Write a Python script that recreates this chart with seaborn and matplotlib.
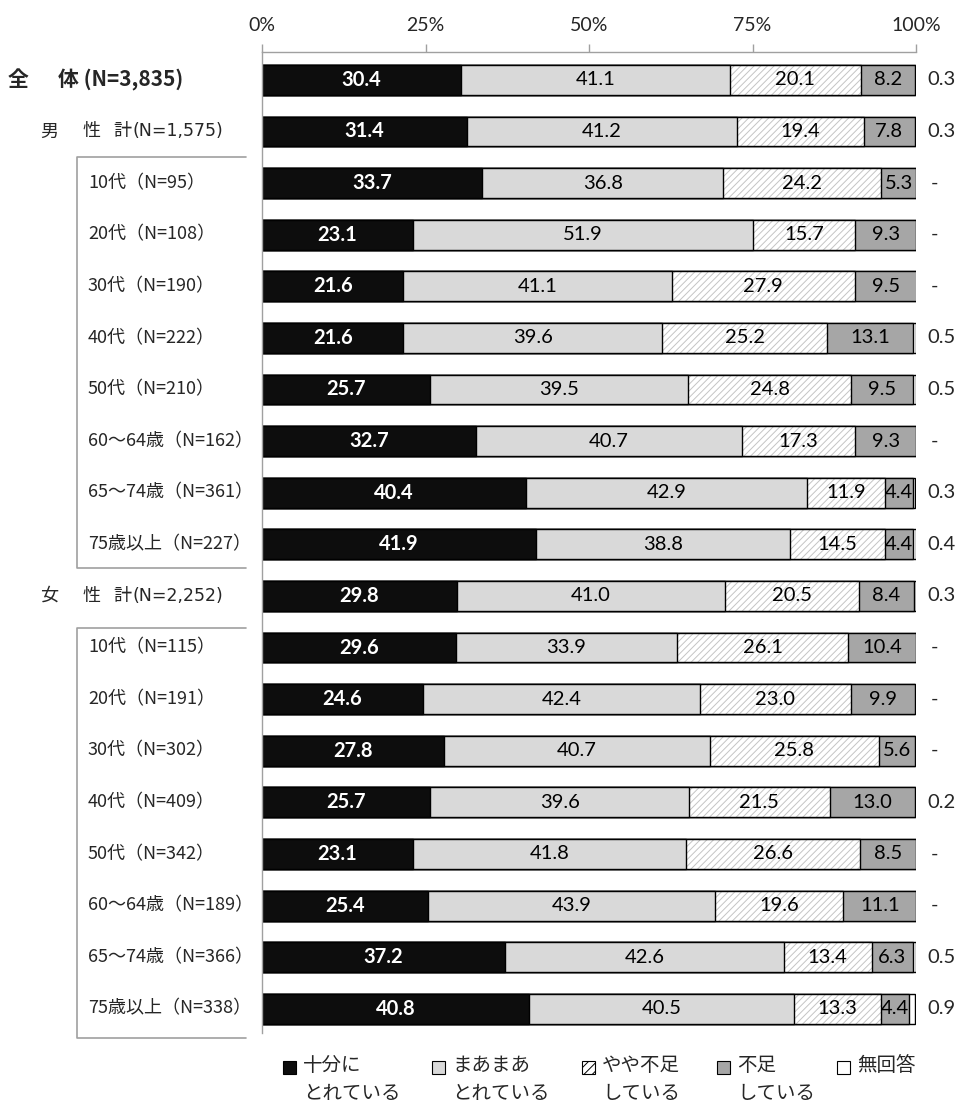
import numpy as np
import pandas as pd
import matplotlib.pyplot as plt
import seaborn as sns
from matplotlib.patches import Rectangle
from matplotlib.lines import Line2D
from matplotlib.transforms import blended_transform_factory

# Data (percent)
row_names = ['全体', '男性計', '男10代', '男20代', '男30代', '男40代', '男50代', '男60～64歳',
             '男65～74歳', '男75歳以上', '女性計', '女10代', '女20代', '女30代', '女40代',
             '女50代', '女60～64歳', '女65～74歳', '女75歳以上']
sub_labels = ['10代', '20代', '30代', '40代', '50代', '60～64歳', '65～74歳', '75歳以上']
n_values = ['3,835', '1,575', '95', '108', '190', '222', '210', '162', '361', '227',
            '2,252', '115', '191', '302', '409', '342', '189', '366', '338']

juubun = [30.4, 31.4, 33.7, 23.1, 21.6, 21.6, 25.7, 32.7, 40.4, 41.9,
          29.8, 29.6, 24.6, 27.8, 25.7, 23.1, 25.4, 37.2, 40.8]
maamaa = [41.1, 41.2, 36.8, 51.9, 41.1, 39.6, 39.5, 40.7, 42.9, 38.8,
          41.0, 33.9, 42.4, 40.7, 39.6, 41.8, 43.9, 42.6, 40.5]
yaya = [20.1, 19.4, 24.2, 15.7, 27.9, 25.2, 24.8, 17.3, 11.9, 14.5,
        20.5, 26.1, 23.0, 25.8, 21.5, 26.6, 19.6, 13.4, 13.3]
fusoku = [8.2, 7.8, 5.3, 9.3, 9.5, 13.1, 9.5, 9.3, 4.4, 4.4,
          8.4, 10.4, 9.9, 5.6, 13.0, 8.5, 11.1, 6.3, 4.4]
mukaitou = [0.3, 0.3, 0.0, 0.0, 0.0, 0.5, 0.5, 0.0, 0.3, 0.4,
            0.3, 0.0, 0.0, 0.0, 0.2, 0.0, 0.0, 0.5, 0.9]

legend_labels = ['十分に\nとれている', 'まあまあ\nとれている', 'やや不足\nしている', '不足\nしている', '無回答']
colors = ['#0d0d0d', '#d9d9d9', '#ffffff', '#a6a6a6', '#ffffff']

df = pd.DataFrame({'row': np.arange(len(row_names)), 'name': row_names,
                   'juubun': juubun, 'maamaa': maamaa, 'yaya': yaya,
                   'fusoku': fusoku, 'mukaitou': mukaitou})
df['c1'] = df['juubun']
df['c2'] = df['c1'] + df['maamaa']
df['c3'] = df['c2'] + df['yaya']
df['c4'] = df['c3'] + df['fusoku']
df['c5'] = df['c4'] + df['mukaitou']

sns.set_style('white')
plt.rcParams['font.family'] = ['Lato', 'Noto Sans CJK JP', 'DejaVu Sans']
plt.rcParams['hatch.linewidth'] = 0.7
jp = ['Noto Sans CJK JP', 'DejaVu Sans']
hatch_col = '#c4c4c4'

W, H = 958, 1106
fig = plt.figure(figsize=(W / 100, H / 100), dpi=100)
ax = fig.add_axes([262 / W, 1 - 1033 / H, (916 - 262) / W, (1033 - 52) / H])

bw = 0.58
common = dict(y='row', orient='h', width=bw, saturation=1, errorbar=None,
              edgecolor='black', linewidth=1.0, ax=ax)

# stacked bars: draw cumulative totals from widest to narrowest
sns.barplot(data=df, x='c5', color=colors[4], **common)
sns.barplot(data=df, x='c4', color=colors[3], **common)
n0 = len(ax.patches)
sns.barplot(data=df, x='c3', color='white', **common)
for p in ax.patches[n0:]:
    p.set_hatch('/////')
    p.set_edgecolor(hatch_col)
    p.set_linewidth(0)
n0 = len(ax.patches)
sns.barplot(data=df, x='c3', color='white', **common)
for p in ax.patches[n0:]:
    p.set_facecolor('none')
    p.set_edgecolor('black')
sns.barplot(data=df, x='c2', color=colors[1], **common)
sns.barplot(data=df, x='c1', color=colors[0], **common)

ax.set_xlim(0, 100)
ax.set_ylim(18.47, -0.54)
ax.set_xlabel('')
ax.set_ylabel('')
ax.set_yticks([])
ax.xaxis.tick_top()
ax.set_xticks([0, 25, 50, 75, 100])
ax.set_xticklabels(['0%', '25%', '50%', '75%', '100%'])
ax.tick_params(axis='x', top=True, direction='out', length=6, width=1,
               color='#a0a0a0', labelsize=14, pad=7)
for s in ['right', 'bottom']:
    ax.spines[s].set_visible(False)
for s in ['top', 'left']:
    ax.spines[s].set_color('#a0a0a0')
    ax.spines[s].set_linewidth(1)

# segment labels
for i in range(len(row_names)):
    starts = [0, df['c1'][i], df['c2'][i], df['c3'][i]]
    vals = [juubun[i], maamaa[i], yaya[i], fusoku[i]]
    for k, (s0, v) in enumerate(zip(starts, vals)):
        ax.text(s0 + v / 2, i, f'{v:.1f}', ha='center', va='center',
                fontsize=14.5, color='white' if k == 0 else 'black',
                fontweight='bold' if k == 0 else 'normal')
    m = mukaitou[i]
    ax.text(101.7 if m > 0 else 102.2, i, f'{m:.1f}' if m > 0 else '-',
            ha='left', va='center', fontsize=14.5, clip_on=False)

# row labels on the left
trans = blended_transform_factory(fig.transFigure, ax.transData)
ax.text(8 / W, 0, '全', transform=trans, family=jp, fontsize=15,
        fontweight='bold', va='center')
ax.text(58 / W, 0, f'体 (N={n_values[0]})', transform=trans, family=jp,
        fontsize=15, fontweight='bold', va='center')
for r, head in [(1, '男'), (10, '女')]:
    ax.text(40 / W, r, head, transform=trans, family=jp, fontsize=13, va='center')
    ax.text(82 / W, r, '性', transform=trans, family=jp, fontsize=13, va='center')
    ax.text(113 / W, r, '計', transform=trans, family=jp, fontsize=13, va='center')
    ax.text(133 / W, r, f'(N={n_values[r]})', transform=trans,
            family=['DejaVu Sans'], fontsize=12.5, va='center')
for j, r in enumerate(list(range(2, 10)) + list(range(11, 19))):
    ax.text(88 / W, r, f'{sub_labels[j % 8]}（N={n_values[r]}）', transform=trans,
            family=jp, fontsize=13, va='center')

# brackets around the age groups
for top, bot in [(1.5, 9.46), (10.62, 18.57)]:
    fig.add_artist(Line2D([246 / W, 77 / W, 77 / W, 246 / W], [top, top, bot, bot],
                          transform=trans, color='#a0a0a0', lw=1.2))

# legend
legend_x = [283, 432, 582, 717, 837]
for k, (lx, lab) in enumerate(zip(legend_x, legend_labels)):
    sq = Rectangle((lx / W, 1 - 1074 / H), 13 / W, 13 / H, transform=fig.transFigure,
                   facecolor=colors[k], edgecolor='black', lw=0.8)
    fig.add_artist(sq)
    if k == 2:
        sq.set_hatch('////')
    fig.text((lx + 20) / W, 1 - 1055 / H, lab, family=jp, fontsize=14,
             va='top', ha='left', linespacing=1.45)

fig.savefig('out.png', dpi=100)
